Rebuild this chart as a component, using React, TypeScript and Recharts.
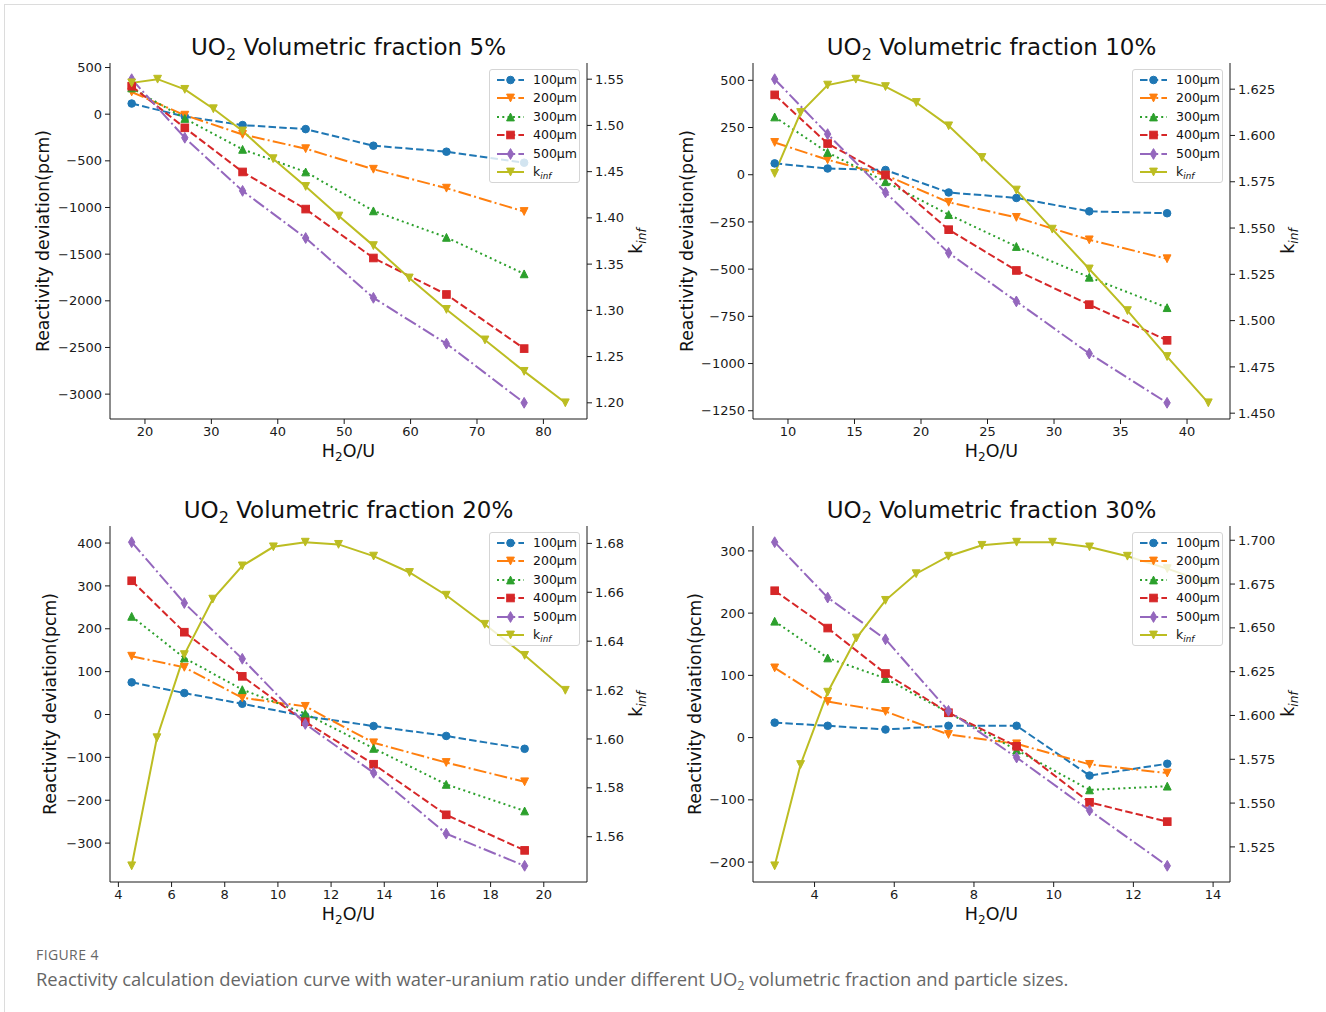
import React from "react";
import { ComposedChart, Line, XAxis, YAxis } from "recharts";

// ---------- data ----------
const sizeNames = ["100μm", "200μm", "300μm", "400μm", "500μm"];

// UO2 volumetric fraction 5%
const x5 = [18.0, 26.0, 34.7, 44.2, 54.4, 65.4, 77.1];
const x5Kinf = [18.0, 21.9, 26.0, 30.3, 34.7, 39.3, 44.2, 49.2, 54.4, 59.8, 65.4, 71.2, 77.1, 83.3];
const kinf5 = [1.546, 1.55, 1.539, 1.518, 1.494, 1.464, 1.434, 1.402, 1.37, 1.335, 1.301, 1.268, 1.234, 1.2];
const dev5_100 = [114, -25, -117, -160, -338, -402, -520];
const dev5_200 = [238, -11, -217, -370, -590, -793, -1043];
const dev5_300 = [281, -46, -377, -619, -1036, -1320, -1711];
const dev5_400 = [299, -146, -619, -1017, -1541, -1932, -2512];
const dev5_500 = [375, -253, -822, -1327, -1968, -2459, -3093];

// 10%
const x10 = [9.0, 12.98, 17.33, 22.08, 27.17, 32.65, 38.5];
const x10Kinf = [9.0, 10.95, 12.98, 15.1, 17.33, 19.65, 22.08, 24.58, 27.17, 29.87, 32.65, 35.52, 38.5, 41.6];
const kinf10 = [1.5795, 1.6124, 1.6272, 1.6304, 1.6264, 1.6178, 1.6052, 1.5881, 1.5705, 1.5494, 1.5279, 1.5054, 1.4806, 1.4556];
const dev10_100 = [60, 33, 25, -94, -123, -194, -204];
const dev10_200 = [171, 79, -2, -146, -226, -345, -445];
const dev10_300 = [306, 118, -37, -211, -380, -543, -704];
const dev10_400 = [423, 165, -2, -291, -507, -688, -877];
const dev10_500 = [506, 215, -94, -414, -671, -947, -1208];

// 20%
const x20 = [4.5, 6.48, 8.66, 11.03, 13.6, 16.33, 19.28];
const x20Kinf = [4.5, 5.45, 6.48, 7.55, 8.66, 9.83, 11.03, 12.28, 13.6, 14.95, 16.33, 17.78, 19.28, 20.81];
const kinf20 = [1.5481, 1.6005, 1.6345, 1.6572, 1.6708, 1.6786, 1.6805, 1.6796, 1.6748, 1.6681, 1.6588, 1.6469, 1.6342, 1.6199];
const dev20_100 = [75, 50, 25, -4, -27, -50, -80];
const dev20_200 = [136, 110, 39, 19, -66, -112, -157];
const dev20_300 = [229, 132, 58, 2, -79, -163, -225];
const dev20_400 = [312, 192, 89, -17, -116, -234, -317];
const dev20_500 = [402, 260, 130, -22, -136, -278, -353];

// 30%
const x30 = [3.0, 4.33, 5.78, 7.36, 9.07, 10.9, 12.85];
const x30Kinf = [3.0, 3.65, 4.33, 5.05, 5.78, 6.55, 7.36, 8.2, 9.07, 9.97, 10.9, 11.85, 12.85, 13.88];
const kinf30 = [1.5142, 1.572, 1.6133, 1.6442, 1.6657, 1.6809, 1.6909, 1.6971, 1.6989, 1.6989, 1.6962, 1.6909, 1.6838, 1.6756];
const dev30_100 = [24, 19, 13, 19, 19, -61, -42];
const dev30_200 = [112, 58, 42, 5, -10, -43, -57];
const dev30_300 = [187, 128, 95, 40, -20, -84, -78];
const dev30_400 = [236, 176, 103, 40, -14, -104, -135];
const dev30_500 = [314, 225, 158, 43, -32, -117, -206];

// tick labels
const xTicks5 = [20, 30, 40, 50, 60, 70, 80];
const yTicks5 = [500, 0, -500, -1000, -1500, -2000, -2500, -3000];
const kTicks5 = [1.2, 1.25, 1.3, 1.35, 1.4, 1.45, 1.5, 1.55];
const xTicks10 = [10, 15, 20, 25, 30, 35, 40];
const yTicks10 = [500, 250, 0, -250, -500, -750, -1000, -1250];
const kTicks10 = [1.45, 1.475, 1.5, 1.525, 1.55, 1.575, 1.6, 1.625];
const xTicks20 = [4, 6, 8, 10, 12, 14, 16, 18, 20];
const yTicks20 = [400, 300, 200, 100, 0, -100, -200, -300];
const kTicks20 = [1.56, 1.58, 1.6, 1.62, 1.64, 1.66, 1.68];
const xTicks30 = [4, 6, 8, 10, 12, 14];
const yTicks30 = [300, 200, 100, 0, -100, -200];
const kTicks30 = [1.525, 1.55, 1.575, 1.6, 1.625, 1.65, 1.675, 1.7];

// ---------- styling ----------
const FONT = "'DejaVu Sans', sans-serif";
const AX = "#1a1a1a";
const seriesStyles = [
  { color: "#1f77b4", dash: "7.5 3.2", shape: "circle" },
  { color: "#ff7f0e", dash: "13 3.2 2 3.2", shape: "down" },
  { color: "#2ca02c", dash: "2 3.3", shape: "up" },
  { color: "#d62728", dash: "7.5 3.2", shape: "square" },
  { color: "#9467bd", dash: "13 3.2 2 3.2", shape: "diamond" },
];
const kinfStyle = { color: "#bcbd22", dash: undefined as string | undefined, shape: "down" };

const pts = (xs: number[], ys: number[]) => xs.map((x, i) => ({ x, y: ys[i] }));
const padDomain = (vals: number[]): [number, number] => {
  const lo = Math.min(...vals);
  const hi = Math.max(...vals);
  const p = (hi - lo) * 0.05;
  return [lo - p, hi + p];
};
const fmtInt = (v: number) => (v < 0 ? "\u2212" + Math.abs(v) : String(v));

function Marker({ cx, cy, shape, color }: any) {
  if (cx == null || cy == null || isNaN(cx) || isNaN(cy)) return null;
  const common = { fill: color, stroke: color, strokeWidth: 1 };
  if (shape === "circle") return <circle cx={cx} cy={cy} r={3.8} {...common} />;
  if (shape === "square") return <rect x={cx - 3.8} y={cy - 3.8} width={7.6} height={7.6} {...common} />;
  if (shape === "down")
    return <polygon points={`${cx - 3.9},${cy - 3.9} ${cx + 3.9},${cy - 3.9} ${cx},${cy + 3.9}`} {...common} />;
  if (shape === "up")
    return <polygon points={`${cx - 3.9},${cy + 3.9} ${cx + 3.9},${cy + 3.9} ${cx},${cy - 3.9}`} {...common} />;
  return <polygon points={`${cx},${cy - 5.4} ${cx + 3.2},${cy} ${cx},${cy + 5.4} ${cx - 3.2},${cy}`} {...common} />;
}

interface PanelCfg {
  pct: string;
  px: number;
  py: number;
  x: number[];
  xKinf: number[];
  kinf: number[];
  devs: number[][];
  xTicks: number[];
  yTicks: number[];
  kTicks: number[];
  kDigits: number;
  yLabelX: number;
}

const panels: PanelCfg[] = [
  { pct: "5%", px: 110, py: 63, x: x5, xKinf: x5Kinf, kinf: kinf5, devs: [dev5_100, dev5_200, dev5_300, dev5_400, dev5_500], xTicks: xTicks5, yTicks: yTicks5, kTicks: kTicks5, kDigits: 2, yLabelX: 44 },
  { pct: "10%", px: 753, py: 63, x: x10, xKinf: x10Kinf, kinf: kinf10, devs: [dev10_100, dev10_200, dev10_300, dev10_400, dev10_500], xTicks: xTicks10, yTicks: yTicks10, kTicks: kTicks10, kDigits: 3, yLabelX: 688 },
  { pct: "20%", px: 110, py: 526, x: x20, xKinf: x20Kinf, kinf: kinf20, devs: [dev20_100, dev20_200, dev20_300, dev20_400, dev20_500], xTicks: xTicks20, yTicks: yTicks20, kTicks: kTicks20, kDigits: 2, yLabelX: 51 },
  { pct: "30%", px: 753, py: 526, x: x30, xKinf: x30Kinf, kinf: kinf30, devs: [dev30_100, dev30_200, dev30_300, dev30_400, dev30_500], xTicks: xTicks30, yTicks: yTicks30, kTicks: kTicks30, kDigits: 3, yLabelX: 696 },
];

const PW = 477;
const PH = 356;
const LW = 70;
const RW = 70;
const TM = 5;
const XH = 30;

const tickStyle = { fontSize: 13, fill: "#1a1a1a", fontFamily: FONT };

function Kinf({ size }: { size: number }) {
  return (
    <span>
      k<span style={{ fontStyle: "italic", fontSize: size * 0.7, position: "relative", top: size * 0.22 }}>inf</span>
    </span>
  );
}

function Abs({ x, y, rotate, children, style }: any) {
  return (
    <div
      style={{
        position: "absolute",
        left: x,
        top: y,
        transform: `translate(-50%, -50%)${rotate ? " rotate(-90deg)" : ""}`,
        whiteSpace: "nowrap",
        fontFamily: FONT,
        color: "#111",
        lineHeight: 1,
        ...style,
      }}
    >
      {children}
    </div>
  );
}

function Swatch({ color, dash, shape }: any) {
  return (
    <svg width={28} height={14} style={{ position: "absolute", left: 7, top: -7 }}>
      <line x1={0} y1={7} x2={27} y2={7} stroke={color} strokeWidth={2} strokeDasharray={dash} />
      <Marker cx={13.5} cy={7} shape={shape} color={color} />
    </svg>
  );
}

function LegendBox({ right, top }: { right: number; top: number }) {
  const rows = [...seriesStyles.map((s, i) => ({ ...s, name: sizeNames[i] as any })), { ...kinfStyle, name: "kinf" }];
  return (
    <div
      style={{
        position: "absolute",
        left: right - 91,
        top,
        width: 91,
        height: 114,
        boxSizing: "border-box",
        border: "1px solid #d5d5d5",
        borderRadius: 3,
        background: "rgba(255,255,255,0.8)",
        fontFamily: FONT,
        fontSize: 12.5,
        color: "#111",
      }}
    >
      {rows.map((r, i) => (
        <div key={i} style={{ position: "absolute", left: 0, top: 10.5 + i * 18.4, width: "100%" }}>
          <Swatch color={r.color} dash={r.dash} shape={r.shape} />
          <div style={{ position: "absolute", left: 43, top: -8, lineHeight: "16px" }}>
            {r.name === "kinf" ? <Kinf size={12.5} /> : r.name}
          </div>
        </div>
      ))}
    </div>
  );
}

function Panel({ cfg }: { cfg: PanelCfg }) {
  const xd = padDomain(cfg.xKinf);
  const yd = padDomain(cfg.devs.flat());
  const kd = padDomain(cfg.kinf);
  const kinfPts = pts(cfg.xKinf, cfg.kinf);
  return (
    <div style={{ position: "absolute", left: cfg.px - LW, top: cfg.py - TM }}>
      <ComposedChart width={LW + PW + RW} height={TM + PH + XH} margin={{ top: TM, right: 0, bottom: 0, left: 0 }}>
        <XAxis
          xAxisId="b"
          type="number"
          dataKey="x"
          domain={xd}
          ticks={cfg.xTicks}
          interval={0}
          height={XH}
          tickSize={5}
          tickMargin={3}
          stroke={AX}
          tick={tickStyle}
          allowDataOverflow
        />
        <XAxis xAxisId="t" orientation="top" type="number" dataKey="x" domain={xd} height={0} tick={false} tickLine={false} stroke={AX} allowDataOverflow />
        <YAxis
          yAxisId="l"
          type="number"
          domain={yd}
          ticks={cfg.yTicks}
          interval={0}
          width={LW}
          tickSize={5}
          tickMargin={3}
          stroke={AX}
          tick={tickStyle}
          tickFormatter={fmtInt}
          allowDataOverflow
        />
        <YAxis
          yAxisId="r"
          orientation="right"
          type="number"
          domain={kd}
          ticks={cfg.kTicks}
          interval={0}
          width={RW}
          tickSize={5}
          tickMargin={3}
          stroke={AX}
          tick={tickStyle}
          tickFormatter={(v: number) => v.toFixed(cfg.kDigits)}
          allowDataOverflow
        />
        {cfg.devs.map((d, i) => {
          const s = seriesStyles[i];
          return (
            <Line
              key={sizeNames[i]}
              xAxisId="b"
              yAxisId="l"
              data={pts(cfg.x, d)}
              dataKey="y"
              stroke={s.color}
              strokeWidth={2}
              strokeDasharray={s.dash}
              dot={(p: any) => <Marker key={`m${i}-${p.index}`} cx={p.cx} cy={p.cy} shape={s.shape} color={s.color} />}
              activeDot={false}
              isAnimationActive={false}
            />
          );
        })}
        <Line
          xAxisId="b"
          yAxisId="r"
          data={kinfPts}
          dataKey="y"
          stroke={kinfStyle.color}
          strokeWidth={2}
          dot={(p: any) => <Marker key={`k-${p.index}`} cx={p.cx} cy={p.cy} shape="down" color={kinfStyle.color} />}
          activeDot={false}
          isAnimationActive={false}
        />
      </ComposedChart>
    </div>
  );
}

export default function App() {
  return (
    <div style={{ position: "absolute", left: 0, top: 0, width: 1326, height: 1012, background: "#fff", overflow: "hidden" }}>
      <div style={{ position: "absolute", left: 4, top: 4, width: 1340, height: 1020, borderTop: "1px solid #dcdcdc", borderLeft: "1px solid #dcdcdc" }} />
      {panels.map((cfg) => {
        const cx = cfg.px + PW / 2;
        const cy = cfg.py + PH / 2;
        return (
          <React.Fragment key={cfg.pct}>
            <Panel cfg={cfg} />
            <LegendBox right={cfg.px + PW - 7} top={cfg.py + 5.5} />
            <Abs x={cx} y={cfg.py - 16} style={{ fontSize: 23 }}>
              UO<span style={{ fontSize: 16, position: "relative", top: 5 }}>2</span> Volumetric fraction {cfg.pct}
            </Abs>
            <Abs x={cx} y={cfg.py + PH + 33} style={{ fontSize: 17.5 }}>
              H<span style={{ fontSize: 12, position: "relative", top: 4 }}>2</span>O/U
            </Abs>
            <Abs x={cfg.yLabelX} y={cy} rotate style={{ fontSize: 17.3 }}>
              Reactivity deviation(pcm)
            </Abs>
            <Abs x={cfg.px + PW + (cfg.kDigits === 3 ? 59 : 50)} y={cy} rotate style={{ fontSize: 17.5 }}>
              <Kinf size={17.5} />
            </Abs>
          </React.Fragment>
        );
      })}
      <div style={{ position: "absolute", left: 36, top: 948, lineHeight: "14px", fontFamily: "'Open Sans', sans-serif", fontSize: 14, color: "#666", letterSpacing: 0.4 }}>
        FIGURE 4
      </div>
      <div style={{ position: "absolute", left: 36, top: 969, lineHeight: "19px", fontFamily: "'Open Sans', sans-serif", fontSize: 18.4, color: "#666", whiteSpace: "nowrap" }}>
        Reactivity calculation deviation curve with water-uranium ratio under different UO
        <span style={{ fontSize: 12.5, position: "relative", top: 4 }}>2</span> volumetric fraction and particle sizes.
      </div>
    </div>
  );
}
